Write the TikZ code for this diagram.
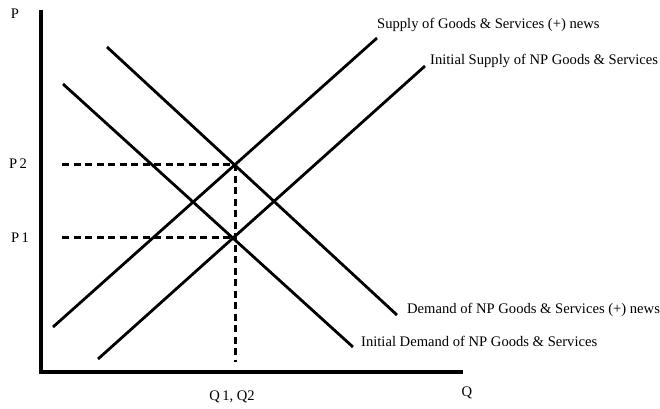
\documentclass[tikz,border=0pt]{standalone}
\usepackage{fontspec}
\setmainfont{Liberation Serif}
\begin{document}
\begin{tikzpicture}[x=1pt,y=-1pt,
  axis/.style={line width=3.4pt},
  curve/.style={line width=2.8pt},
  guide/.style={line width=3pt, dash pattern=on 7pt off 4.5pt},
  lbl/.style={font=\fontsize{14.6}{16}\selectfont, inner sep=0pt},
  tick/.style={font=\fontsize{14.6}{16}\selectfont, inner sep=0pt}]
\useasboundingbox (0,0) rectangle (660,408);
% axes
\coordinate (top) at (41,10);
\coordinate (origin) at (41,372);
\coordinate (right) at (463,372);
\draw[axis] (top) -- (origin) -- (right);
\node[tick] (P) at (15,14) {P};
\node[tick] (Q) at (467,393) {Q};
% curves
\coordinate (s2a) at (53,327);
\coordinate (s2b) at (377,38);
\coordinate (s1a) at (98,359);
\coordinate (s1b) at (425,66);
\coordinate (d2a) at (107,47);
\coordinate (d2b) at (397,315);
\coordinate (d1a) at (63,84);
\coordinate (d1b) at (353,347);
\draw[curve] (s2a) -- (s2b);
\draw[curve] (s1a) -- (s1b);
\draw[curve] (d2a) -- (d2b);
\draw[curve] (d1a) -- (d1b);
\node[lbl, anchor=west] (ls2) at (377,25) {Supply of Goods \& Services (+) news};
\node[lbl, anchor=west] (ls1) at (430,61) {Initial Supply of NP Goods \& Services};
\node[lbl, anchor=west] (ld2) at (407,310) {Demand of NP Goods \& Services (+) news};
\node[lbl, anchor=west] (ld1) at (361,341) {Initial Demand of NP Goods \& Services};
% equilibrium guides
\coordinate (e2) at (235,164);
\coordinate (e1) at (235,237.5);
\coordinate (p2s) at (62,164);
\coordinate (p1s) at (62,237.5);
\coordinate (qb) at (235,362);
\draw[guide] (p2s) -- (e2);
\draw[guide] (p1s) -- (e1);
\draw[guide] (e2) -- (qb);
\node[tick] (P2) at (18,164) {P\,2};
\node[tick] (P1) at (20,238) {P\,1};
\node[tick] (Q12) at (232,397) {Q\,1, Q2};
\end{tikzpicture}
\end{document}
